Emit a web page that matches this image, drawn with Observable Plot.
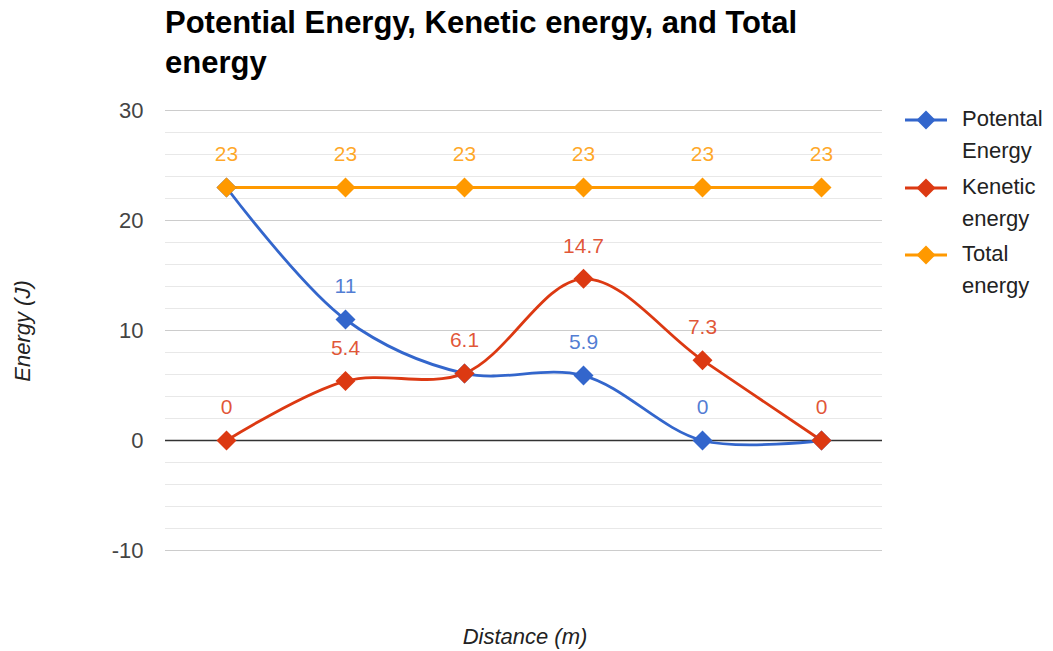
<!DOCTYPE html>
<html>
<head>
<meta charset="utf-8">
<script src="https://cdn.jsdelivr.net/npm/d3@7"></script>
<script src="https://cdn.jsdelivr.net/npm/@observablehq/plot@0.6"></script>
<style>
  html, body { margin: 0; padding: 0; background: #fff; }
  body { width: 1053px; height: 651px; position: relative; overflow: hidden; font-family: "Liberation Sans", Arial, sans-serif; }
  #chart { position: absolute; left: 0; top: 0; }
  .title { position: absolute; left: 165px; top: 3px; font-size: 31px; font-weight: bold; line-height: 40px; color: #000; }
  .ylab { position: absolute; left: 23px; top: 331px; transform: translate(-50%, -50%) rotate(-90deg); font-size: 22px; font-style: italic; color: #222; white-space: nowrap; }
  .xlab { position: absolute; left: 525px; top: 637px; transform: translate(-50%, -50%); font-size: 22px; font-style: italic; color: #222; white-space: nowrap; }
  .legend { position: absolute; left: 905px; top: 103px; }
  .item { position: relative; height: 67.5px; }
  .item svg { position: absolute; left: 0; top: 5px; }
  .item .lbl { position: absolute; left: 57px; top: 0; font-size: 22px; line-height: 32px; color: #222; white-space: nowrap; }
</style>
</head>
<body>
<div id="chart"></div>
<div class="title">Potential Energy, Kenetic energy, and Total<br>energy</div>
<div class="ylab">Energy (J)</div>
<div class="xlab">Distance (m)</div>
<div class="legend" id="legend"></div>
<script>
const points = [0, 1, 2, 3, 4, 5];
const seriesNames = ["Potental Energy", "Kenetic energy", "Total energy"];
const seriesColors = ["#3366cc", "#dc3912", "#ff9900"];
const potential = [23, 11, 6.1, 5.9, 0, 0];
const kinetic = [0, 5.4, 6.1, 14.7, 7.3, 0];
const total = [23, 23, 23, 23, 23, 23];
const potentialLabels = [null, "11", null, "5.9", "0", null];
const kineticLabels = ["0", "5.4", "6.1", "14.7", "7.3", "0"];
const totalLabels = ["23", "23", "23", "23", "23", "23"];
const yTicks = [-10, 0, 10, 20, 30];

const seriesValues = [potential, kinetic, total];
const seriesLabels = [potentialLabels, kineticLabels, totalLabels];
const data = [];
seriesNames.forEach((s, i) => points.forEach((p, j) => data.push({ series: s, x: p, y: seriesValues[i][j], label: seriesLabels[i][j] })));
const labelData = data.filter(d => d.label !== null);

const color = { domain: seriesNames, range: seriesColors };
const minor = d3.range(-10, 31, 2);

const chart = Plot.plot({
  width: 1053, height: 651,
  marginLeft: 165, marginRight: 171, marginTop: 110, marginBottom: 101,
  style: { fontFamily: "Liberation Sans, Arial, sans-serif", background: "#fff" },
  x: { type: "point", domain: points, padding: 0.5, axis: null },
  y: { domain: [-10, 30] },
  color,
  marks: [
    Plot.ruleY(minor.filter(v => v % 10 !== 0), { stroke: "#e8e8e8", strokeWidth: 1 }),
    Plot.ruleY(yTicks.filter(v => v !== 0), { stroke: "#cccccc", strokeWidth: 1 }),
    Plot.ruleY([0], { stroke: "#333", strokeWidth: 1.3 }),
    Plot.axisY({ ticks: yTicks, tickFormat: d => String(d), tickSize: 0, tickPadding: 22, fontSize: 22, fill: "#444", label: null }),
    Plot.line(data, { x: "x", y: "y", z: "series", stroke: "series", strokeWidth: 2.8, curve: "catmull-rom" }),
    Plot.dot(data, { x: "x", y: "y", fill: "series", symbol: "diamond2", r: 9, stroke: null }),
    Plot.text(labelData, { x: "x", y: "y", text: "label", fill: "series", dy: -33, fontSize: 21, fillOpacity: 0.85 })
  ]
});
document.getElementById("chart").appendChild(chart);

const legend = document.getElementById("legend");
seriesNames.forEach((s, i) => {
  const item = document.createElement("div");
  item.className = "item";
  const parts = s.split(" ");
  item.innerHTML = `<svg width="44" height="24"><line x1="0" y1="12" x2="42" y2="12" stroke="${seriesColors[i]}" stroke-width="2.8"/><path d="M21,2.5 L30.5,12 L21,21.5 L11.5,12 Z" fill="${seriesColors[i]}"/></svg><div class="lbl">${parts[0]}<br>${parts.slice(1).join(" ")}</div>`;
  legend.appendChild(item);
});
</script>
</body>
</html>
